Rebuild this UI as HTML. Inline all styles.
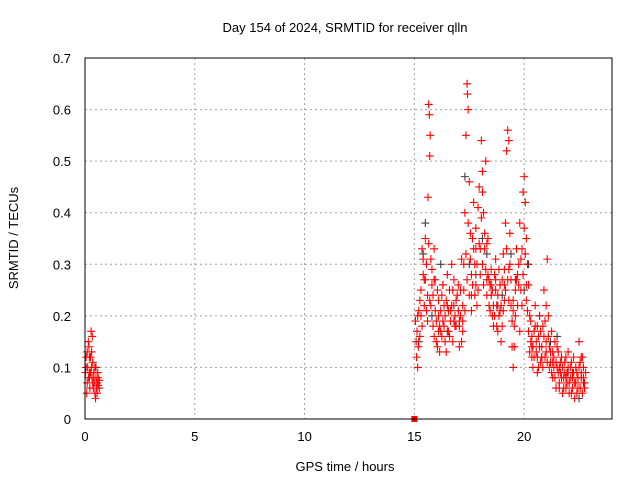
<!DOCTYPE html>
<html><head><meta charset="utf-8"><style>
body{margin:0;background:#fff}
svg{display:block;font-family:"Liberation Sans",sans-serif;font-size:13px}
</style></head><body>
<svg id="chart" width="640" height="480" viewBox="0 0 640 480">
<rect width="640" height="480" fill="#fff"/>
<g id="grid"></g>
<g id="series-gray"></g>
<g id="series-red"></g>
<rect x="85" y="58" width="527" height="361" fill="none" stroke="#000" stroke-width="1"/>
<g id="ticks"></g>
<text x="345" y="32" text-anchor="middle">Day 154 of 2024, SRMTID for receiver qlln</text>
<text x="345" y="471" text-anchor="middle">GPS time / hours</text>
<text x="18" y="238" text-anchor="middle" transform="rotate(-90 18 238)">SRMTID / TECUs</text>
</svg>
<script>
const xTicks=[0,5,10,15,20];
const yTicks=[0,0.1,0.2,0.3,0.4,0.5,0.6,0.7];
const yTickLabels=["0","0.1","0.2","0.3","0.4","0.5","0.6","0.7"];
const redHours=[0.02,0.05,0.08,0.1,0.12,0.15,0.18,0.2,0.22,0.25,0.28,0.3,0.32,0.33,0.35,0.38,0.4,0.42,0.45,0.48,0.5,0.52,0.55,0.58,0.6,0.65,
15.05,15.08,15.1,15.12,15.15,15.18,15.2,15.25,15.3,15.35,15.4,15.45,15.5,15.55,15.6,15.62,15.65,15.68,15.7,15.72,15.75,15.8,15.85,15.9,15.95,16.0,16.05,16.1,16.15,16.2,16.25,16.3,16.35,16.4,16.5,16.55,16.6,16.7,16.75,16.8,16.9,17.0,17.05,17.1,17.15,17.2,17.25,17.3,17.35,17.4,17.42,17.45,17.5,17.55,17.6,17.65,17.7,17.75,17.8,17.85,17.9,17.95,18.0,18.05,18.1,18.15,18.2,18.25,18.3,18.35,18.4,18.45,18.5,18.55,18.6,18.65,18.7,18.75,18.8,18.85,18.9,18.95,19.0,19.05,19.1,19.15,19.2,19.25,19.3,19.35,19.4,19.45,19.5,19.55,19.6,19.65,19.7,19.8,19.85,19.9,19.95,20.0,20.05,20.1,20.15,20.2,20.25,20.3,20.35,20.4,20.45,20.5,20.55,20.6,20.65,20.7,20.75,20.8,20.85,20.9,20.95,21.0,21.05,21.1,21.15,21.2,21.25,21.3,21.35,21.4,21.45,21.5,21.55,21.6,21.65,21.7,21.75,21.8,21.85,21.9,21.95,22.0,22.05,22.1,22.15,22.2,22.25,22.3,22.35,22.4,22.45,22.5,22.55,22.6,22.65,22.7,22.75,
15.3,15.45,15.7,15.9,16.1,16.3,16.45,16.65,16.85,17.05,17.2,17.6,17.8,18.1,18.3,18.5,18.7,18.9,19.1,19.3,19.5,19.75,20.1,20.35,20.6,20.8,21.0,21.3,21.6,21.9,22.2,22.45,22.6];
const redValues=[0.09,0.12,0.05,0.07,0.10,0.15,0.14,0.09,0.06,0.12,0.17,0.13,0.08,0.16,0.11,0.06,0.09,0.07,0.05,0.04,0.08,0.06,0.07,0.09,0.065,0.075,
0.19,0.15,0.12,0.17,0.10,0.14,0.21,0.16,0.25,0.33,0.28,0.22,0.35,0.30,0.24,0.43,0.61,0.59,0.51,0.55,0.31,0.26,0.18,0.33,0.21,0.15,0.25,0.20,0.13,0.17,0.24,0.19,0.22,0.15,0.28,0.21,0.16,0.30,0.25,0.19,0.23,0.26,0.14,0.20,0.31,0.22,0.25,0.40,0.55,0.65,0.63,0.60,0.46,0.36,0.28,0.35,0.42,0.30,0.26,0.22,0.41,0.45,0.33,0.54,0.48,0.40,0.36,0.50,0.34,0.28,0.22,0.26,0.24,0.20,0.18,0.28,0.25,0.22,0.17,0.29,0.21,0.15,0.27,0.32,0.26,0.38,0.52,0.56,0.54,0.30,0.22,0.14,0.10,0.18,0.25,0.33,0.28,0.38,0.31,0.22,0.44,0.47,0.42,0.35,0.30,0.26,0.20,0.15,0.12,0.10,0.17,0.22,0.13,0.09,0.16,0.20,0.11,0.14,0.18,0.25,0.12,0.15,0.31,0.20,0.10,0.13,0.17,0.08,0.12,0.15,0.06,0.10,0.13,0.07,0.09,0.12,0.05,0.08,0.11,0.06,0.09,0.13,0.07,0.10,0.05,0.08,0.12,0.04,0.07,0.09,0.06,0.15,0.11,0.08,0.05,0.10,0.07,
0.20,0.27,0.23,0.27,0.17,0.26,0.23,0.21,0.18,0.19,0.17,0.24,0.33,0.44,0.27,0.26,0.31,0.26,0.23,0.29,0.21,0.26,0.23,0.14,0.18,0.12,0.22,0.11,0.10,0.08,0.09,0.08,0.12];
const extraRedHours=[15.15,15.25,15.35,15.4,15.5,15.55,15.6,15.65,15.75,15.8,15.85,15.9,15.95,16.0,16.05,16.1,16.15,16.2,16.25,16.3,16.35,16.4,16.45,16.5,16.55,16.6,16.65,16.7,16.75,16.8,16.85,16.9,16.95,17.0,17.05,17.1,17.15,17.2,17.25,17.3,17.35,17.4,17.45,17.5,17.55,17.6,17.65,17.7,17.75,17.8,17.85,17.9,17.95,18.0,18.05,18.1,18.15,18.2,18.25,18.3,18.35,18.4,18.45,18.5,18.55,18.6,18.65,18.7,18.75,18.8,18.85,18.9,18.95,19.0,19.05,19.1,19.15,19.2,19.25,19.3,19.35,19.4,19.45,19.5,19.55,19.6,19.65,19.7,19.75,19.8,19.85,19.9,19.95,20.0,20.05,20.1,20.15,20.2,20.25,20.3,20.35,20.4,20.45,20.5,20.55,20.6,20.65,20.7,20.75,20.8,20.85,20.9,20.95,21.0,21.05,21.1,21.15,21.2,21.25,21.3,21.35,21.4,21.45,21.5,21.55,21.6,21.65,21.7,21.75,21.8,21.85,21.9,21.95,22.0,22.05,22.1,22.15,22.2,22.25,22.3,22.35,22.4,22.45,22.5,22.55,22.6,22.65,22.7,22.75,22.8,
0.05,0.1,0.15,0.2,0.25,0.3,0.35,0.4,0.45,0.55,0.6,0.65];
const extraRedValues=[0.20,0.23,0.18,0.31,0.27,0.21,0.19,0.34,0.22,0.29,0.24,0.16,0.27,0.19,0.14,0.23,0.18,0.21,0.16,0.26,0.18,0.20,0.13,0.22,0.17,0.25,0.19,0.22,0.15,0.27,0.20,0.18,0.24,0.21,0.18,0.25,0.15,0.19,0.30,0.21,0.32,0.27,0.38,0.24,0.31,0.21,0.26,0.33,0.24,0.37,0.30,0.25,0.34,0.28,0.39,0.30,0.26,0.33,0.29,0.24,0.35,0.27,0.21,0.29,0.25,0.22,0.20,0.27,0.18,0.24,0.20,0.26,0.22,0.18,0.21,0.29,0.25,0.33,0.27,0.23,0.36,0.27,0.19,0.23,0.14,0.20,0.27,0.22,0.30,0.17,0.25,0.33,0.28,0.37,0.32,0.26,0.21,0.17,0.13,0.19,0.16,0.14,0.12,0.18,0.15,0.12,0.10,0.14,0.17,0.12,0.10,0.16,0.19,0.13,0.11,0.16,0.14,0.11,0.09,0.13,0.10,0.08,0.11,0.14,0.09,0.06,0.11,0.08,0.10,0.06,0.09,0.12,0.07,0.10,0.05,0.08,0.11,0.06,0.09,0.07,0.10,0.05,0.08,0.10,0.06,0.09,0.12,0.08,0.06,0.09,
0.10,0.13,0.08,0.12,0.09,0.10,0.07,0.08,0.10,0.05,0.08,0.06];
const grayHours=[0.5,15.5,16.2,17.3,17.8,18.1,19.0,20.2,21.5,22.5,16.8,19.6,15.4,15.8,16.5,17.5,18.3,18.8,19.4,20.0,20.7,21.2,22.0,22.7,0.2,15.2];
const grayValues=[0.10,0.38,0.30,0.47,0.28,0.35,0.24,0.30,0.16,0.04,0.22,0.27,0.32,0.20,0.17,0.30,0.32,0.22,0.32,0.25,0.20,0.15,0.09,0.07,0.08,0.15];
const sqHours=[15.0];
const sqValues=[0];

const X0=85,X1=612,Y0=419,Y1=58;
const xs=h=>X0+h/24*(X1-X0);
const ys=v=>Y0-v/0.7*(Y0-Y1);
const NS="http://www.w3.org/2000/svg";
function mk(t,a,p){const e=document.createElementNS(NS,t);for(const k in a)e.setAttribute(k,a[k]);p.appendChild(e);return e;}
const grid=document.getElementById('grid'),ticks=document.getElementById('ticks');
xTicks.forEach((t,i)=>{const x=xs(t);
 if(t>0){const l=mk('line',{x1:x,x2:x,y1:Y1,y2:Y0,stroke:'#a0a0a0','stroke-dasharray':'2,3'},grid);
 
 }
 const tl=mk('text',{x:x,y:Y0+22,'text-anchor':'middle'},ticks);tl.textContent=String(t);
 
 
});
yTicks.forEach((t,i)=>{const y=ys(t);
 if(t>0&&t<0.7){const l=mk('line',{x1:X0,x2:X1,y1:y,y2:y,stroke:'#a0a0a0','stroke-dasharray':'2,3'},grid);
 
 }
 const tl=mk('text',{x:X0-14,y:y+5,'text-anchor':'end'},ticks);tl.textContent=yTickLabels[i];
 
 
});
function plus(g,h,v,c){const x=xs(h),y=ys(v);
 const p=mk('path',{d:`M${x-4} ${y}H${x+4}M${x} ${y-4}V${y+4}`,stroke:c,'stroke-width':1.1,fill:'none'},g);
 
 }
const gg=document.getElementById('series-gray'),gr=document.getElementById('series-red');
grayHours.forEach((h,i)=>plus(gg,h,grayValues[i],'#404040'));
redHours.forEach((h,i)=>plus(gr,h,redValues[i],'#ff0000'));
extraRedHours.forEach((h,i)=>plus(gr,h,extraRedValues[i],'#ff0000'));
sqHours.forEach((h,i)=>{const r=mk('rect',{x:xs(h)-3,y:ys(sqValues[i])-3,width:6,height:6,fill:'#ff0000'},gr);
 
 });
</script>
</body></html>
